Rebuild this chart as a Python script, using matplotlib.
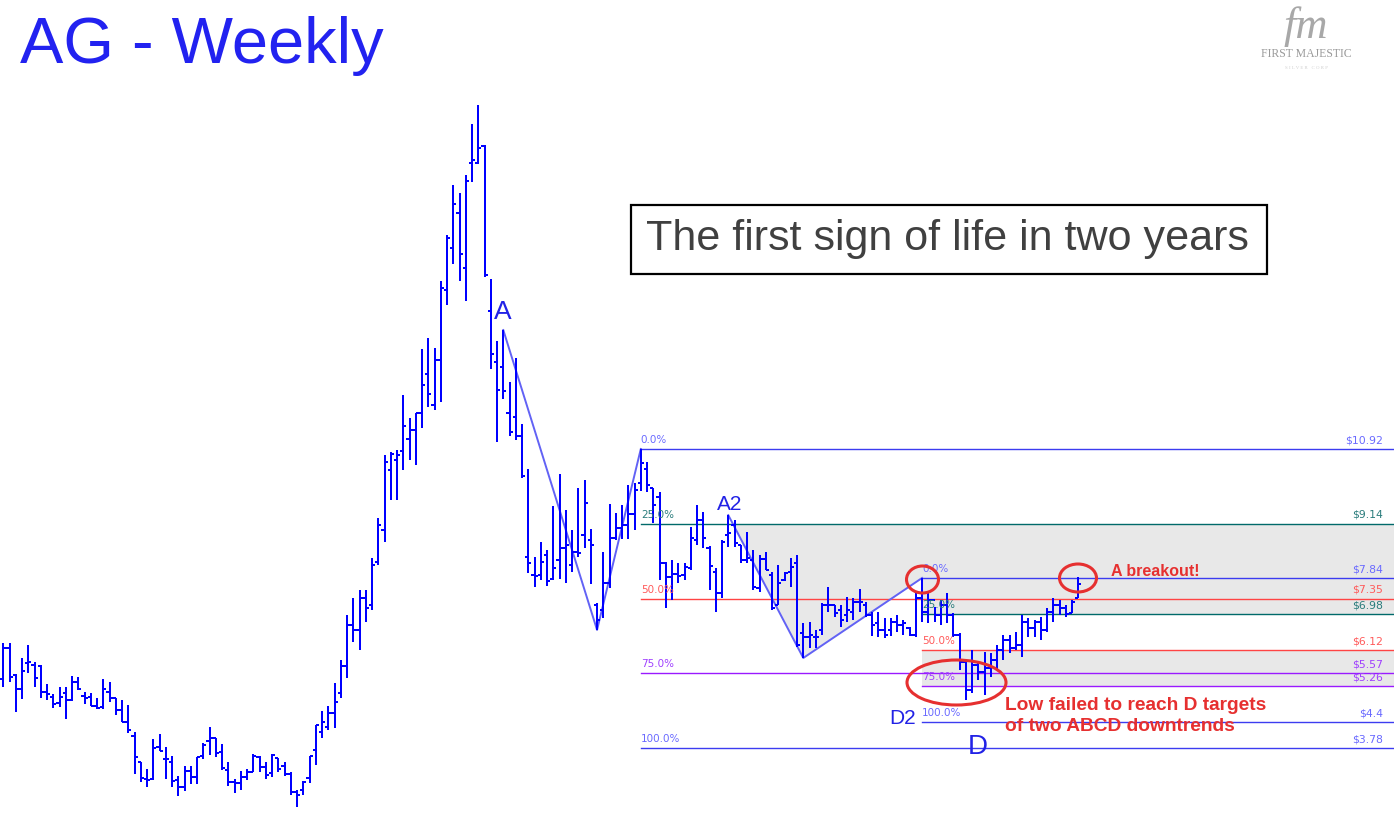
import matplotlib
matplotlib.use("Agg")
import numpy as np
import matplotlib.pyplot as plt
from matplotlib.collections import LineCollection
from matplotlib.patches import Ellipse, Rectangle

# -----------------------------
# Weekly OHLC bars of AG (USD)
# -----------------------------
highs = [6.28, 6.28, 5.54, 5.92, 6.24, 5.83, 5.76, 5.31, 5.06, 5.23,
         5.23, 5.50, 5.47, 5.11, 5.09, 4.97, 5.42, 5.36, 4.98, 4.93,
         4.81, 4.16, 3.44, 3.27, 4.00, 4.11, 3.80, 3.59, 3.11, 3.35,
         3.35, 3.57, 3.89, 4.27, 4.03, 3.87, 3.44, 3.03, 3.23, 3.27,
         3.63, 3.60, 3.44, 3.63, 3.53, 3.44, 3.20, 2.78, 2.99, 3.59,
         4.33, 4.66, 4.78, 5.34, 5.88, 6.96, 7.36, 7.55, 7.55, 8.32,
         9.27, 10.78, 10.85, 10.90, 12.21, 11.66, 11.78, 13.31, 13.56, 13.32,
         14.93, 16.03, 17.22, 17.04, 17.46, 18.67, 19.13, 18.18, 14.99, 13.50,
         13.76, 12.51, 13.09, 11.52, 10.44, 8.34, 8.70, 8.51, 9.56, 10.32,
         9.46, 8.98, 9.99, 10.18, 9.01, 7.24, 8.46, 9.61, 9.39, 9.58,
         10.06, 10.11, 10.92, 10.61, 9.99, 9.89, 8.22, 8.27, 8.20, 8.20,
         9.06, 9.58, 9.42, 8.60, 8.08, 8.75, 9.34, 9.22, 8.63, 8.94,
         8.51, 8.39, 8.46, 7.98, 8.15, 7.98, 8.32, 8.39, 6.77, 6.79,
         6.60, 7.24, 7.63, 7.19, 7.19, 7.38, 7.36, 7.58, 7.27, 7.03,
         7.03, 6.88, 6.88, 6.96, 6.84, 6.67, 7.48, 7.84, 7.48, 7.15,
         7.31, 7.48, 7.00, 6.53, 5.88, 6.12, 5.83, 6.07, 6.05, 6.24,
         6.48, 6.48, 6.55, 6.96, 6.88, 6.84, 6.91, 7.12, 7.36, 7.31,
         7.19, 7.31, 7.86]
lows = [5.23, 5.36, 4.65, 4.95, 5.58, 5.24, 4.98, 4.93, 4.74, 4.77,
        4.47, 4.91, 5.16, 4.83, 4.78, 4.70, 4.72, 4.89, 4.58, 4.41,
        4.15, 3.15, 2.97, 2.84, 3.02, 3.71, 3.03, 2.86, 2.64, 2.75,
        2.91, 2.91, 3.51, 3.61, 3.57, 3.26, 2.87, 2.71, 2.78, 3.02,
        3.21, 3.21, 3.03, 3.09, 3.21, 3.12, 2.66, 2.38, 2.67, 2.94,
        3.38, 4.01, 4.21, 4.26, 4.98, 5.45, 6.31, 6.12, 6.79, 7.08,
        8.15, 8.70, 9.70, 9.70, 10.42, 10.66, 10.54, 11.42, 11.93, 11.85,
        12.05, 14.37, 15.33, 14.92, 14.45, 17.29, 17.72, 15.03, 12.83, 11.08,
        12.11, 11.22, 11.13, 10.23, 7.96, 7.63, 7.79, 7.65, 7.79, 7.82,
        7.72, 7.98, 8.34, 8.56, 7.70, 6.60, 6.88, 7.60, 8.75, 8.77,
        8.77, 8.99, 9.92, 9.89, 9.15, 7.79, 7.12, 7.31, 7.72, 7.79,
        8.03, 8.63, 8.56, 7.55, 7.03, 7.36, 8.58, 8.58, 8.20, 8.20,
        7.55, 7.50, 8.03, 7.08, 7.19, 7.77, 7.63, 6.19, 5.93, 6.17,
        6.17, 6.48, 7.03, 6.91, 6.67, 6.79, 6.84, 7.03, 6.91, 6.46,
        6.43, 6.41, 6.46, 6.55, 6.48, 6.46, 6.43, 6.79, 6.77, 6.79,
        6.72, 6.77, 6.43, 5.64, 4.93, 5.09, 5.40, 5.05, 5.47, 5.64,
        5.88, 6.05, 6.12, 5.95, 6.43, 6.43, 6.36, 6.55, 6.79, 6.96,
        6.91, 7.00, 7.36]
opens = [5.43, 6.16, 5.52, 5.20, 5.80, 5.76, 5.75, 5.11, 5.01, 4.85,
         5.10, 4.93, 5.36, 5.02, 4.99, 4.78, 4.77, 5.11, 4.97, 4.69,
         4.39, 4.07, 3.44, 3.03, 3.05, 3.81, 3.51, 3.45, 3.02, 2.84,
         3.22, 3.09, 3.60, 3.95, 4.02, 3.68, 3.26, 2.96, 2.95, 3.09,
         3.21, 3.57, 3.33, 3.18, 3.53, 3.36, 3.15, 2.74, 2.78, 3.06,
         3.73, 4.16, 4.29, 4.62, 5.10, 5.74, 6.72, 6.60, 7.36, 7.19,
         8.22, 8.98, 10.42, 10.66, 10.87, 11.16, 11.37, 11.78, 12.71, 11.97,
         13.04, 14.72, 15.71, 16.56, 15.25, 17.74, 17.74, 18.16, 14.21, 13.00,
         12.87, 11.77, 11.69, 11.23, 8.34, 7.91, 7.91, 8.39, 7.82, 8.27,
         8.55, 8.15, 8.46, 8.87, 8.75, 7.19, 7.08, 7.72, 8.79, 9.03,
         9.11, 9.37, 10.11, 10.44, 9.99, 9.77, 8.20, 7.86, 7.93, 7.91,
         8.08, 8.75, 9.22, 8.56, 7.98, 7.48, 8.87, 9.11, 8.63, 8.27,
         8.27, 7.60, 8.29, 7.91, 7.19, 7.79, 7.98, 8.20, 6.53, 6.43,
         6.43, 6.60, 7.19, 7.19, 7.08, 6.96, 7.03, 7.27, 7.19, 6.96,
         6.77, 6.60, 6.60, 6.79, 6.72, 6.65, 6.48, 7.36, 7.03, 7.31,
         6.96, 7.19, 6.96, 6.48, 5.83, 5.16, 5.76, 5.59, 5.69, 5.88,
         6.12, 6.36, 6.17, 6.24, 6.79, 6.65, 6.79, 6.60, 7.03, 7.19,
         7.12, 7.00, 7.36]
closes = [6.16, 5.48, 5.18, 5.61, 5.84, 5.46, 5.11, 5.06, 4.83, 5.01,
          4.93, 5.35, 5.20, 4.97, 4.79, 4.74, 5.18, 4.97, 4.69, 4.41,
          4.21, 3.57, 3.06, 3.02, 3.77, 3.72, 3.51, 2.99, 2.86, 3.22,
          3.09, 3.57, 3.85, 4.03, 3.65, 3.30, 2.96, 2.94, 3.09, 3.21,
          3.60, 3.33, 3.13, 3.61, 3.27, 3.15, 2.74, 2.67, 2.96, 3.59,
          4.33, 4.40, 4.62, 4.88, 5.74, 6.72, 6.60, 7.36, 7.12, 8.15,
          9.11, 10.61, 10.80, 10.78, 11.47, 11.37, 11.78, 12.45, 12.23, 13.04,
          14.76, 15.95, 16.76, 15.57, 17.32, 17.82, 18.10, 15.07, 13.18, 12.34,
          12.30, 11.32, 11.24, 10.27, 8.20, 7.89, 8.22, 7.77, 8.08, 8.55,
          8.63, 8.46, 8.44, 9.63, 8.63, 6.84, 7.72, 8.79, 9.03, 9.11,
          9.37, 9.94, 10.59, 10.06, 9.58, 8.20, 7.86, 7.93, 7.89, 8.10,
          8.79, 9.22, 8.79, 8.13, 7.48, 8.70, 8.91, 8.67, 8.27, 8.32,
          7.63, 8.29, 8.03, 7.12, 7.72, 7.96, 8.10, 6.24, 6.43, 6.48,
          6.43, 7.19, 7.19, 7.00, 6.84, 7.08, 7.27, 7.27, 6.96, 6.72,
          6.60, 6.48, 6.79, 6.72, 6.77, 6.48, 7.36, 7.03, 7.31, 6.96,
          7.19, 6.96, 6.48, 5.83, 5.16, 5.76, 5.59, 5.69, 5.88, 6.12,
          6.36, 6.17, 6.24, 6.79, 6.65, 6.79, 6.60, 7.03, 7.19, 7.12,
          6.98, 7.27, 7.70]

# ABCD swing points (bar index)
abc1 = [80, 95, 102]      # A, B, C of the first downtrend
abc2 = [116, 128, 147]    # A2, B2, C2 of the second

# Fibonacci retracement levels
fib_pcts = ["0.0%", "25.0%", "50.0%", "75.0%", "100.0%"]
fib1_levels = [10.92, 9.14, 7.35, 5.57, 3.78]
fib2_levels = [7.84, 6.98, 6.12, 5.26, 4.4]
fib1_labels = ["$10.92", "$9.14", "$7.35", "$5.57", "$3.78"]
fib2_labels = ["$7.84", "$6.98", "$6.12", "$5.26", "$4.4"]

line_cols = ["#3c3cf0", "#006a6a", "#ff4444", "#9a1aff", "#3c3cf0"]
text_cols = ["#6a6aff", "#2a7c7c", "#ff5a5a", "#a040ff", "#6a6aff"]

W, H = 1394, 818
BAR_W = 6.25  # pixels per weekly bar
GREY = "#e8e8e8"


def px(x):
    """screen pixel x -> bar index"""
    return (x - 3.3) / BAR_W


def py(y):
    """screen pixel y -> price"""
    return 21.641 - y / 41.88


def plot():
    fig = plt.figure(figsize=(W / 100, H / 100), dpi=100)
    fig.patch.set_facecolor("white")
    ax = fig.add_axes([0, 0, 1, 1])
    ax.set_xlim(px(0), px(W))
    ax.set_ylim(py(H), py(0))
    ax.axis("off")
    xr = px(W)

    # shaded zone above the A2-B2-C2 swing, then the retracement bands
    sx = abc2
    sy = [highs[sx[0]], lows[sx[1]], highs[sx[2]]]
    xs = np.linspace(sx[0], sx[2], 200)
    lower = np.interp(xs, sx, sy)
    ax.fill_between(xs, lower, fib1_levels[1], where=lower < fib1_levels[1],
                    color=GREY, lw=0, zorder=0)
    ax.fill_between([sx[2], xr], fib2_levels[1], fib1_levels[1], color=GREY, lw=0, zorder=0)
    ax.fill_between([sx[2], xr], fib2_levels[3], fib2_levels[2], color=GREY, lw=0, zorder=0)

    # fib lines + labels
    for start, levels, labels in [(abc1[2], fib1_levels, fib1_labels),
                                  (abc2[2], fib2_levels, fib2_labels)]:
        for k, lv in enumerate(levels):
            ax.plot([start, xr], [lv, lv], color=line_cols[k], lw=1.0, zorder=1)
            ax.text(start, lv + 0.09, fib_pcts[k], color=text_cols[k],
                    fontsize=7.5, family="DejaVu Sans", ha="left", va="bottom", zorder=4)
            ax.text(px(1383), lv + 0.09, labels[k], color=text_cols[k],
                    fontsize=7.8, family="DejaVu Sans", ha="right", va="bottom", zorder=4)

    # ABC swing lines
    for pts in (abc1, abc2):
        ys = [highs[pts[0]], lows[pts[1]], highs[pts[2]]]
        ax.plot(pts, ys, color="#6262f5", lw=1.4, zorder=2)

    # OHLC bars
    segs = []
    for i in range(len(highs)):
        segs.append([(i, lows[i]), (i, highs[i])])
        segs.append([(i - 0.5, opens[i]), (i, opens[i])])
        segs.append([(i, closes[i]), (i + 0.5, closes[i])])
    ax.add_collection(LineCollection(segs, colors="#0000ff", linewidths=1.1,
                                     capstyle="butt", antialiaseds=False, zorder=3))

    # point labels
    lab = dict(color="#2222e6", family="Liberation Sans", ha="center", va="center", zorder=5)
    ax.text(px(503), py(312), "A", fontsize=19, **lab)
    ax.text(px(730), py(505), "A2", fontsize=15, **lab)
    ax.text(px(903), py(718), "D2", fontsize=15, **lab)
    ax.text(px(978), py(747), "D", fontsize=20, **lab)

    # red circles
    red = "#e63030"
    for cx, cy, ew, eh in [(922.5, 579.5, 32, 27), (1078, 578, 37, 28), (956.5, 682.5, 99, 45)]:
        ax.add_patch(Ellipse((px(cx), py(cy)), ew / BAR_W, eh / 41.88, fill=False,
                             edgecolor=red, lw=2.2, zorder=6))
    txt = dict(color=red, family="Liberation Sans", fontweight="bold", ha="left",
               va="baseline", zorder=6)
    ax.text(px(1111), py(576), "A breakout!", fontsize=11.5, **txt)
    ax.text(px(1005), py(710), "Low failed to reach D targets", fontsize=13.8, **txt)
    ax.text(px(1005), py(731), "of two ABCD downtrends", fontsize=13.8, **txt)

    # title
    fig.text(20 / W, 1 - 63 / H, "AG - Weekly", color="#2222f0", fontsize=46.8,
             family="Liberation Sans", ha="left", va="baseline")

    # boxed caption
    fig.patches.append(Rectangle((631 / W, 1 - 274 / H), 636 / W, 69 / H,
                                 transform=fig.transFigure, fill=True,
                                 facecolor="white", edgecolor="black", lw=1.6))
    fig.text(947 / W, 1 - 239 / H, "The first sign of life in two years", color="#404040",
             fontsize=31.1, family="Liberation Sans", ha="center", va="center")

    # logo
    fig.text(1306 / W, 1 - 27 / H, "fm", color="#a8a8a8", fontsize=32,
             family="Liberation Serif", style="italic", ha="center", va="center")
    fig.text(1306 / W, 1 - 54 / H, "FIRST MAJESTIC", color="#9a9a9a", fontsize=8.5,
             family="Liberation Serif", ha="center", va="center")
    fig.text(1306 / W, 1 - 68 / H, "S I L V E R   C O R P", color="#d0d0d0", fontsize=3.5,
             family="Liberation Serif", ha="center", va="center")

    fig.savefig("out.png", dpi=100)


plot()
